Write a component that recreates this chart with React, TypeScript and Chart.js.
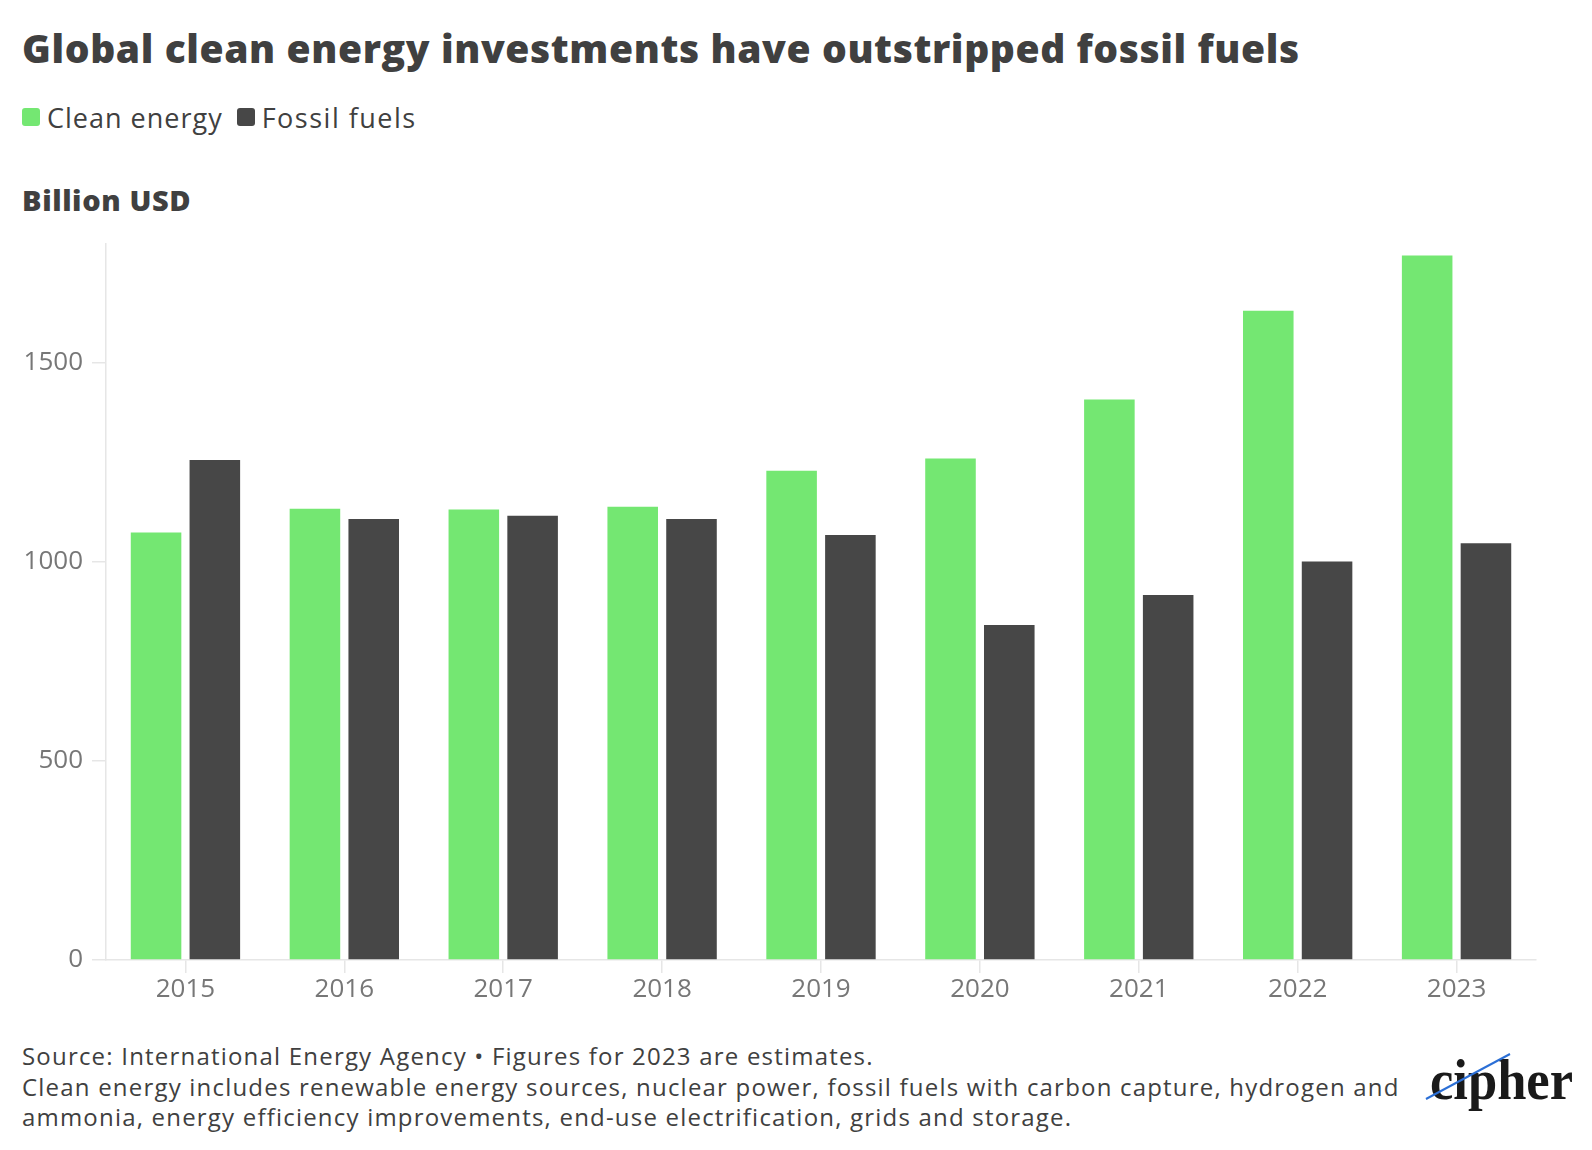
import React, { useEffect, useRef } from "react";
import { Chart, registerables } from "chart.js";

Chart.register(...registerables);

const years = ["2015", "2016", "2017", "2018", "2019", "2020", "2021", "2022", "2023"];
const cleanEnergy = [1074, 1134, 1132, 1139, 1229, 1260, 1408, 1631, 1770];
const fossilFuels = [1256, 1108, 1116, 1108, 1068, 842, 917, 1001, 1047];
const yTickValues = [0, 500, 1000, 1500];
const yMax = 1800;

const GREEN = "#74e772";
const DARK = "#474747";
const TEXT = "#404040";
const TICK = "#777777";
const AXIS = "#e6e6e6";

export default function App() {
  const ref = useRef<HTMLCanvasElement | null>(null);

  useEffect(() => {
    if (!ref.current) return;
    const chart = new Chart(ref.current, {
      type: "bar",
      data: {
        labels: years,
        datasets: [
          {
            label: "Clean energy",
            data: cleanEnergy,
            backgroundColor: GREEN,
            barPercentage: 0.86,
            categoryPercentage: 0.74,
          },
          {
            label: "Fossil fuels",
            data: fossilFuels,
            backgroundColor: DARK,
            barPercentage: 0.86,
            categoryPercentage: 0.74,
          },
        ],
      },
      options: {
        animation: false,
        responsive: true,
        maintainAspectRatio: false,
        layout: { padding: { top: 2, right: 56, left: 0, bottom: 0 } },
        plugins: {
          legend: { display: false },
          tooltip: { enabled: false },
          title: { display: false },
        },
        scales: {
          x: {
            offset: true,
            grid: {
              offset: false,
              drawOnChartArea: false,
              drawTicks: true,
              tickLength: 13,
              color: AXIS,
              lineWidth: 1.5,
            },
            border: { display: true, color: AXIS, width: 1.5 },
            ticks: {
              color: TICK,
              padding: 1,
              font: { family: "'Open Sans', sans-serif", size: 26 },
              maxRotation: 0,
            },
            afterFit: (scale: any) => {
              scale.height = 60;
            },
          },
          y: {
            min: 0,
            max: yMax,
            grid: {
              drawOnChartArea: false,
              drawTicks: true,
              tickLength: 14,
              color: AXIS,
              lineWidth: 1.5,
            },
            border: { display: true, color: AXIS, width: 1.5 },
            ticks: {
              color: TICK,
              padding: 9,
              stepSize: 500,
              font: { family: "'Open Sans', sans-serif", size: 26 },
              callback: (v: any) => String(v),
            },
            afterBuildTicks: (scale: any) => {
              scale.ticks = yTickValues.map((v) => ({ value: v }));
            },
            afterFit: (scale: any) => {
              scale.width = 106;
            },
          },
        },
      },
    });
    return () => chart.destroy();
  }, []);

  const abs = (s: React.CSSProperties): React.CSSProperties => ({ position: "absolute", ...s });

  return (
    <div style={abs({ left: 0, top: 0, width: 1592, height: 1150, background: "#fff", fontFamily: "'Open Sans', sans-serif", color: TEXT })}>
      <div style={abs({ left: 22, top: 22, fontSize: 39, fontWeight: 800, lineHeight: "52px", whiteSpace: "nowrap", letterSpacing: "0.6px" })}>
        Global clean energy investments have outstripped fossil fuels
      </div>
      <div style={abs({ left: 22, top: 98, height: 38, display: "flex", alignItems: "center", fontSize: 27, letterSpacing: "1px", whiteSpace: "nowrap" })}>
        <span style={{ display: "inline-block", width: 18, height: 18, borderRadius: 3, background: GREEN, marginRight: 7 }} />
        <span style={{ marginRight: 14 }}>Clean energy</span>
        <span style={{ display: "inline-block", width: 18, height: 18, borderRadius: 3, background: DARK, marginRight: 7 }} />
        <span style={{ letterSpacing: "1.5px" }}>Fossil fuels</span>
      </div>
      <div style={abs({ left: 22, top: 180, fontSize: 29, fontWeight: 800, lineHeight: "40px", letterSpacing: "0.6px", whiteSpace: "nowrap" })}>
        Billion USD
      </div>
      <div style={abs({ left: 0, top: 219, width: 1592, height: 801 })}>
        <canvas ref={ref} />
      </div>
      <div style={abs({ left: 22, top: 1041, fontSize: 24, lineHeight: "30.5px", letterSpacing: "1.2px", width: 1400, color: TEXT })}>
        <div style={{ whiteSpace: "nowrap" }}>Source: International Energy Agency • Figures for 2023 are estimates.</div>
        <div style={{ whiteSpace: "nowrap" }}>Clean energy includes renewable energy sources, nuclear power, fossil fuels with carbon capture, hydrogen and</div>
        <div style={{ whiteSpace: "nowrap" }}>ammonia, energy efficiency improvements, end-use electrification, grids and storage.</div>
      </div>
      <svg style={abs({ left: 1400, top: 1040, overflow: "visible" })} width={192} height={80}>
        <text x={30} y={59} fontFamily="'Liberation Serif', serif" fontWeight="bold" fontSize={58} fill="#1a1a1a" textLength={143} lengthAdjust="spacingAndGlyphs">
          cipher
        </text>
        <line x1={26} y1={59} x2={110} y2={14} stroke="#2b6fd6" strokeWidth={2} />
      </svg>
    </div>
  );
}
